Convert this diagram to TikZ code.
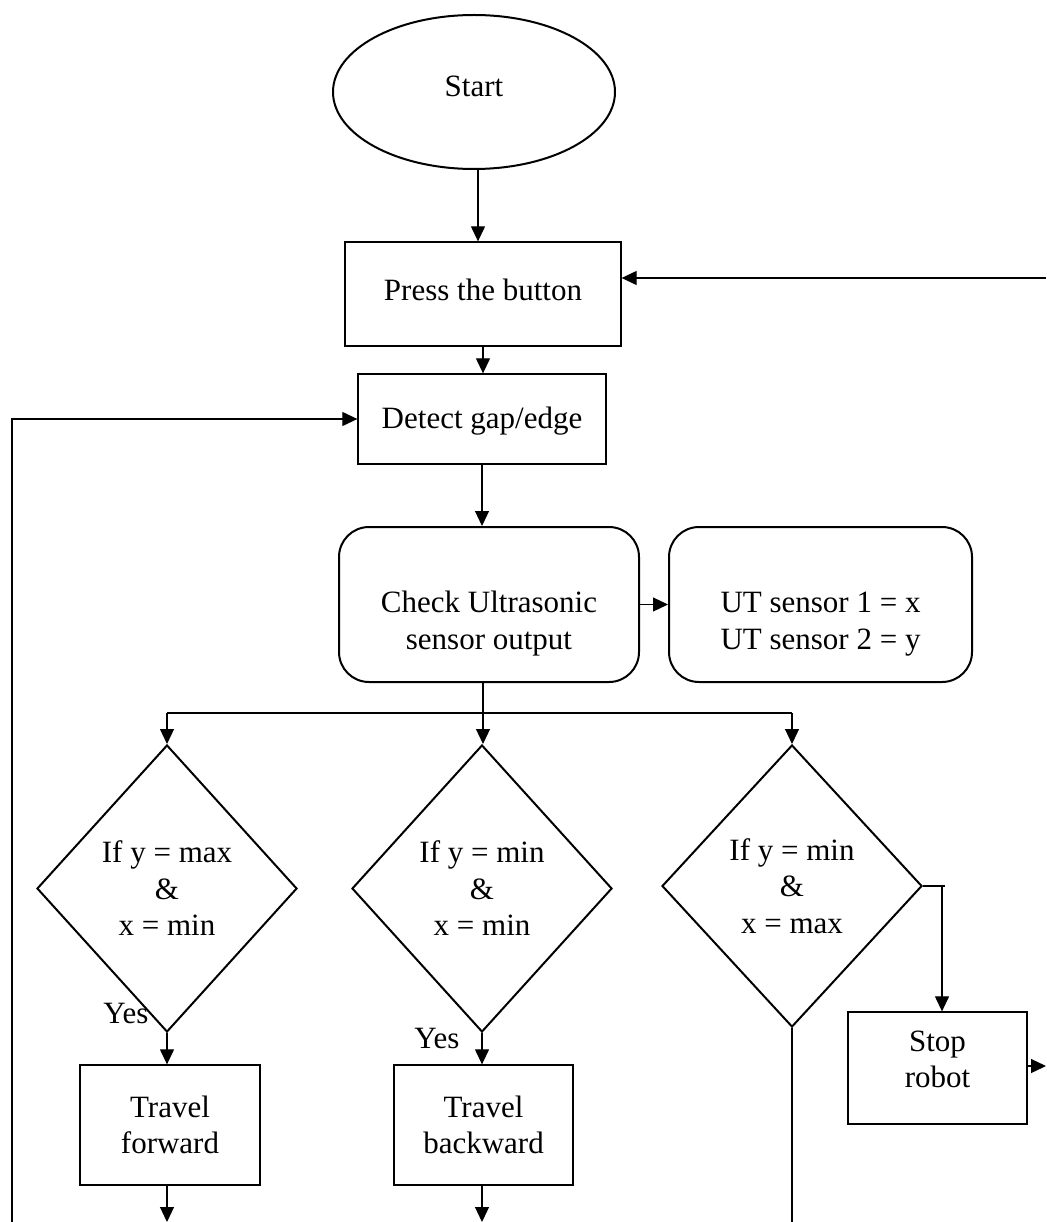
\documentclass[tikz,border=0pt]{standalone}
\usepackage{fontspec}
\setmainfont{Liberation Serif}
\usetikzlibrary{shapes.geometric,arrows.meta}
\newcommand{\shtext}[2]{\raisebox{#1}[0pt][0pt]{\begin{tabular}{@{}c@{}}#2\end{tabular}}}
\begin{document}
\begin{tikzpicture}[x=1pt,y=-1pt,
  every node/.style={font=\fontsize{31}{36.5}\selectfont, align=center, inner sep=0pt},
  rectbox/.style={draw, line width=1.3pt, rectangle},
  rbox/.style={draw, line width=2pt, rectangle, rounded corners=30pt},
  dia/.style={draw, line width=2pt, diamond, minimum width=260pt},
  conn/.style={line width=1.2pt, -{Triangle[length=15pt,width=14pt]}},
  plain/.style={line width=1.2pt}]
\useasboundingbox (0,0) rectangle (1046,1222);
\node[ellipse, draw, line width=2pt, minimum width=282pt, minimum height=154pt] (start) at (474,92) {\shtext{-3.75pt}{Start}};
\node[rectbox, minimum width=276pt, minimum height=104pt] (press) at (483,294) {\shtext{-5.75pt}{Press the button}};
\node[rectbox, minimum width=248pt, minimum height=90pt] (detect) at (482,419) {\shtext{-8.75pt}{Detect gap/edge}};
\node[rbox, minimum width=300pt, minimum height=155pt] (check) at (489,604.5) {\shtext{-25.25pt}{Check Ultrasonic\\sensor output}};
\node[rbox, minimum width=303pt, minimum height=155pt] (ut) at (820.5,604.5) {\shtext{-25.25pt}{UT sensor 1 = x\\UT sensor 2 = y}};
\node[dia, minimum height=287pt] (d1) at (167,888.5) {If y = max\\\&\\x = min};
\node[dia, minimum height=287pt] (d2) at (482,888.5) {If y = min\\\&\\x = min};
\node[dia, minimum height=282pt] (d3) at (792,886) {If y = min\\\&\\x = max};
\node[rectbox, minimum width=180pt, minimum height=120pt] (tf) at (170,1125) {Travel\\forward};
\node[rectbox, minimum width=179pt, minimum height=120pt] (tb) at (483.5,1125) {Travel\\backward};
\node[rectbox, minimum width=179pt, minimum height=112pt] (stop) at (937.5,1068) {\shtext{-0.25pt}{Stop\\robot}};
\node (yes1) at (126,1013) {Yes};
\node (yes2) at (437,1038) {Yes};
\coordinate (br) at (483,713);
\coordinate (e1) at (167,1222);
\coordinate (e2) at (482,1222);
\coordinate (e3) at (792,1222);
\coordinate (s3) at (942,886);
\coordinate (s3end) at (945,886);
\coordinate (e4) at (1046,1066);
\coordinate (l1) at (12,1222);
\coordinate (r1) at (1046,278);
\draw[conn] ([xshift=4pt]start.south) -- ([xshift=-5pt]press.north);
\draw[conn] (press.south) -- (press.south |- detect.north);
\draw[conn] (detect.south) -- (detect.south |- check.north);
\draw[conn] (check.east) -- (ut.west);
\draw[plain] (br |- check.south) -- (br);
\draw[plain] (d1.north |- br) -- (d3.north |- br);
\draw[conn] (d1.north |- br) -- (d1.north);
\draw[conn] (br) -- (br |- d2.north);
\draw[conn] (d3.north |- br) -- (d3.north);
\draw[conn] (d1.south) -- (d1.south |- tf.north);
\draw[conn] (d2.south) -- (d2.south |- tb.north);
\draw[conn] (e1 |- tf.south) -- (e1);
\draw[conn] (e2 |- tb.south) -- (e2);
\draw[plain] (d3.south) -- (e3);
\draw[plain] (d3.east) -- (s3end);
\draw[conn] (s3) -- (s3 |- stop.north);
\draw[conn] (stop.east |- e4) -- (e4);
\draw[conn] (l1) -- (l1 |- detect.west) -- (detect.west);
\draw[conn] (r1) -- (r1 -| press.east);
\end{tikzpicture}
\end{document}
